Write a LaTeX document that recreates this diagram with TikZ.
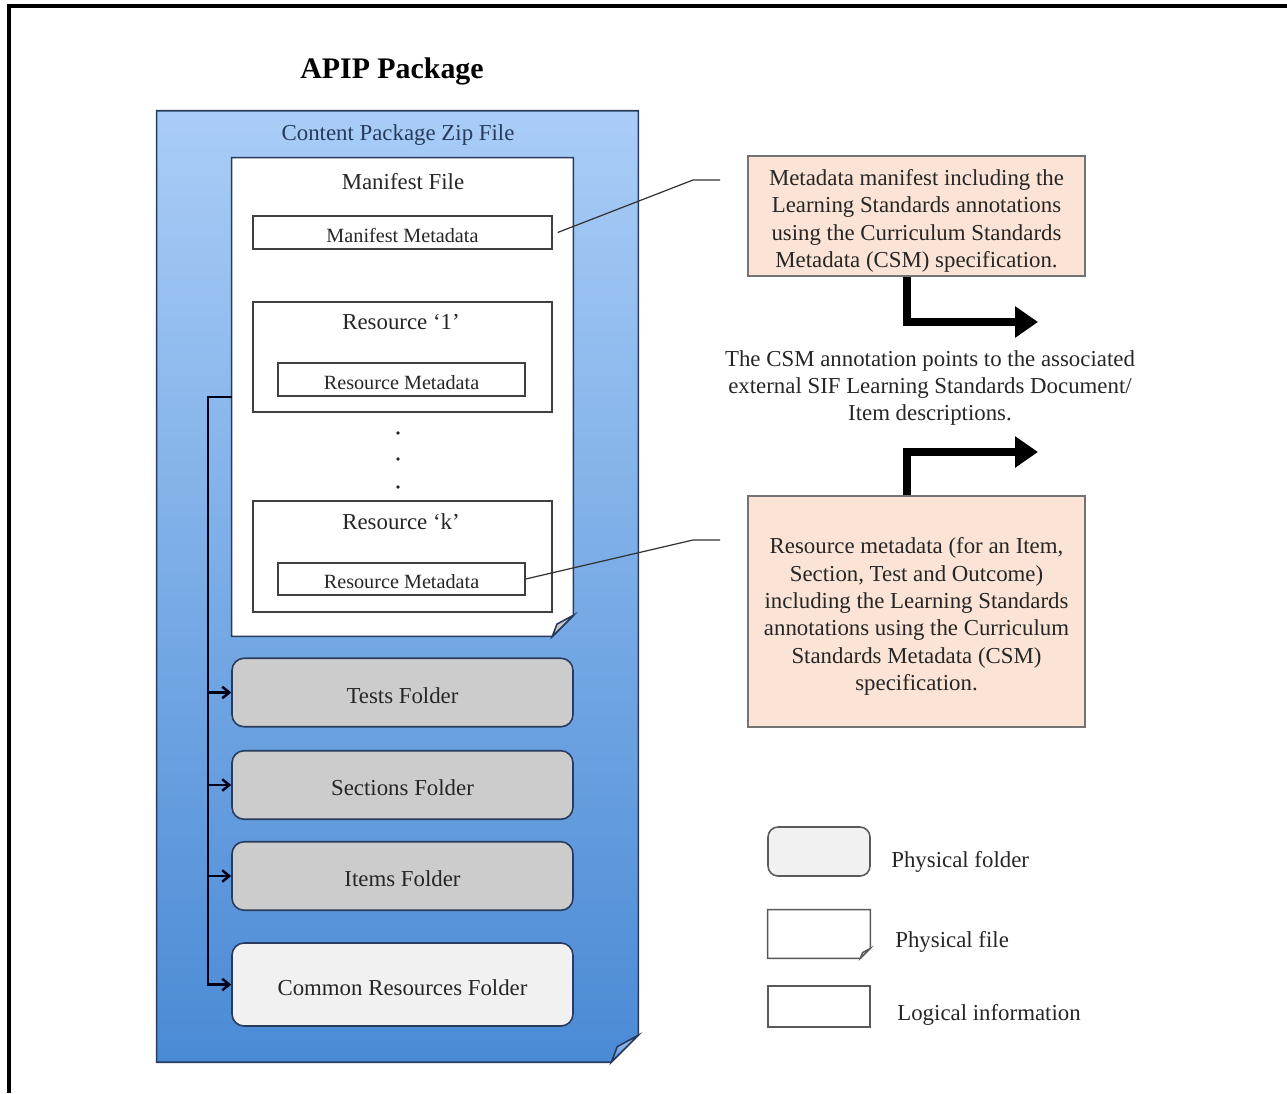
\documentclass[tikz,border=0pt]{standalone}
\usepackage{fontspec}
\setmainfont{Liberation Serif}
\usetikzlibrary{arrows.meta}
\definecolor{zipTop}{HTML}{A9CDF7}
\definecolor{zipBottom}{HTML}{4A8AD5}
\definecolor{zipLine}{HTML}{283B5C}
\definecolor{folderGray}{HTML}{CCCCCC}
\definecolor{folderLight}{HTML}{F1F1F1}
\definecolor{notePeach}{HTML}{FBE4D5}
\newcommand{\labelsize}{\fontsize{13}{15.6}\selectfont}
\newcommand{\metasize}{\fontsize{11.5}{14}\selectfont}
% box with a folded bottom right corner
\newcommand{\folded}[4]{%
  \draw[#3] (#1.north west) -- (#1.north east) -- ([yshift=#2]#1.south east)
    -- ([xshift=-#2]#1.south east) -- (#1.south west) -- cycle;
  \draw[#3, fill=#4] ([yshift=#2]#1.south east) -- ([xshift=-0.78*#2, yshift=0.58*#2]#1.south east)
    -- ([xshift=-#2]#1.south east) -- cycle;
}
\tikzset{
  folder/.style={draw=zipLine, line width=0.9pt, rounded corners=0.24cm, fill=folderGray,
    minimum width=6.82cm, minimum height=1.37cm, inner sep=0pt, text height=12.3pt, text depth=0pt,
    font=\labelsize, text=black!85},
  logic/.style={draw=black!75, line width=0.8pt, fill=white, inner sep=0pt, text height=11.3pt,
    text depth=0pt, font=\metasize, text=black!85},
  noteBox/.style={draw=black!55, line width=0.8pt, fill=notePeach, minimum width=6.74cm, inner sep=0pt},
  noteText/.style={align=center, font=\labelsize, text=black!85},
  bigarrow/.style={line width=4.5pt, -{Triangle[length=13pt,width=17pt]}},
  busarrow/.style={line width=1.4pt, draw=black!90!blue, -{Straight Barb[length=4pt,width=6.5pt]}},
  callout/.style={line width=0.7pt, draw=black!80}
}

\begin{document}
\begin{tikzpicture}[line join=miter,x=0.02cm,y=-0.02cm]
    \useasboundingbox (0,0) rectangle (1287,1093);

    % Frame and title
    \draw[line width=2.2pt] (9,1093) -- (9,6) -- (1287,6);
    \draw(392,71) node[font=\fontsize{17}{20}\selectfont\bfseries] (title) {APIP Package};

    % Zip file and manifest file
    \draw(397.5,586.5) node[minimum width=9.62cm, minimum height=19.02cm, inner sep=0pt] (zip) {};
    \folded{zip}{0.54cm}{draw=zipLine, line width=0.9pt, top color=zipTop, bottom color=zipBottom}{zipBottom!85!white}
    \draw(398,135) node[font=\labelsize, text=zipLine] (ziptitle) {Content Package Zip File};

    \draw(402.5,397) node[minimum width=6.82cm, minimum height=9.56cm, inner sep=0pt] (manifest) {};
    \folded{manifest}{0.42cm}{draw=zipLine, line width=0.9pt, fill=white}{black!20}
    \draw(403,182) node[font=\labelsize, text=black!85] (mftitle) {Manifest File};
    \draw(402.5,232.5) node[logic, minimum width=5.98cm, minimum height=0.66cm] (mfmeta) {Manifest Metadata};

    % Resources
    \draw(402.5,357) node[logic, minimum width=5.98cm, minimum height=2.2cm] (res1) {};
    \draw(401,322) node[font=\labelsize, text=black!85] (res1title) {Resource ‘1’};
    \draw(401.5,379.5) node[logic, minimum width=4.94cm, minimum height=0.66cm] (res1meta) {Resource Metadata};
    \foreach \y in {433,459,487} {
            \fill[black!85] (398,\y) circle (1.1pt);
        }
    \draw(402.5,556.5) node[logic, minimum width=5.98cm, minimum height=2.22cm] (resk) {};
    \draw(401,522) node[font=\labelsize, text=black!85] (resktitle) {Resource ‘k’};
    \draw(401.5,579) node[logic, minimum width=4.94cm, minimum height=0.64cm] (reskmeta) {Resource Metadata};

    % Folders
    \draw(402.5,692.5) node[folder] (tests) {Tests Folder};
    \draw(402.5,785) node[folder] (sections) {Sections Folder};
    \draw(402.5,876) node[folder] (items) {Items Folder};
    \draw(402.5,984.5) node[folder, fill=folderLight, minimum height=1.66cm] (common) {Common Resources Folder};

    \coordinate (bus) at (208,397);
    \draw[busarrow] (manifest.west) -- (bus) |- (common.west);
    \foreach \target in {tests, sections, items} {
            \draw[busarrow] (bus |- \target.west) -- (\target.west);
        }

    % Notes
    \draw(916.5,216) node[noteBox, minimum height=2.4cm] (mfnote) {};
    \draw(916.5,221) node[noteText] (mftext) {Metadata manifest including the\\Learning Standards annotations\\using the Curriculum Standards\\Metadata (CSM) specification.};
    \draw(930,388) node[noteText] (csm) {The CSM annotation points to the associated\\external SIF Learning Standards Document/\\Item descriptions.};
    \draw(916.5,611.5) node[noteBox, minimum height=4.62cm] (resnote) {};
    \draw(916.5,616.5) node[noteText] (restext) {Resource metadata (for an Item,\\Section, Test and Outcome)\\including the Learning Standards\\annotations using the Curriculum\\Standards Metadata (CSM)\\specification.};

    % Callouts and arrows
    \coordinate (mfbend) at (693,180);
    \coordinate (mfend) at (720,180);
    \coordinate (rkbend) at (693,540);
    \coordinate (rkend) at (720,540);
    \draw[callout] ([xshift=0.1cm]mfmeta.east) -- (mfbend) -- (mfend);
    \draw[callout] (reskmeta.east) -- (rkbend) -- (rkend);

    \coordinate (uptip) at (1038,322);
    \coordinate (downtip) at (1038,452);
    \draw[bigarrow] ([xshift=-0.19cm]mfnote.south) |- (uptip);
    \draw[bigarrow] ([xshift=-0.19cm]resnote.north) |- (downtip);

    % Legend
    \draw(819,851.5) node[folder, draw=black!65, fill=folderLight, minimum width=2.04cm, minimum height=0.98cm, rounded corners=0.2cm] (keyfolder) {};
    \draw(819,934) node[minimum width=2.04cm, minimum height=0.96cm, inner sep=0pt] (keyfile) {};
    \folded{keyfile}{0.2cm}{draw=black!65, line width=0.8pt, fill=white}{black!15}
    \draw(819,1006.5) node[logic, draw=black!65, minimum width=2.04cm, minimum height=0.82cm] (keylogic) {};
    \draw(891,862) node[anchor=west, inner sep=0pt, font=\labelsize, text=black!85] (keyfoldertext) {Physical folder};
    \draw(895,942) node[anchor=west, inner sep=0pt, font=\labelsize, text=black!85] (keyfiletext) {Physical file};
    \draw(897,1015) node[anchor=west, inner sep=0pt, font=\labelsize, text=black!85] (keylogictext) {Logical information};
\end{tikzpicture}
\end{document}
